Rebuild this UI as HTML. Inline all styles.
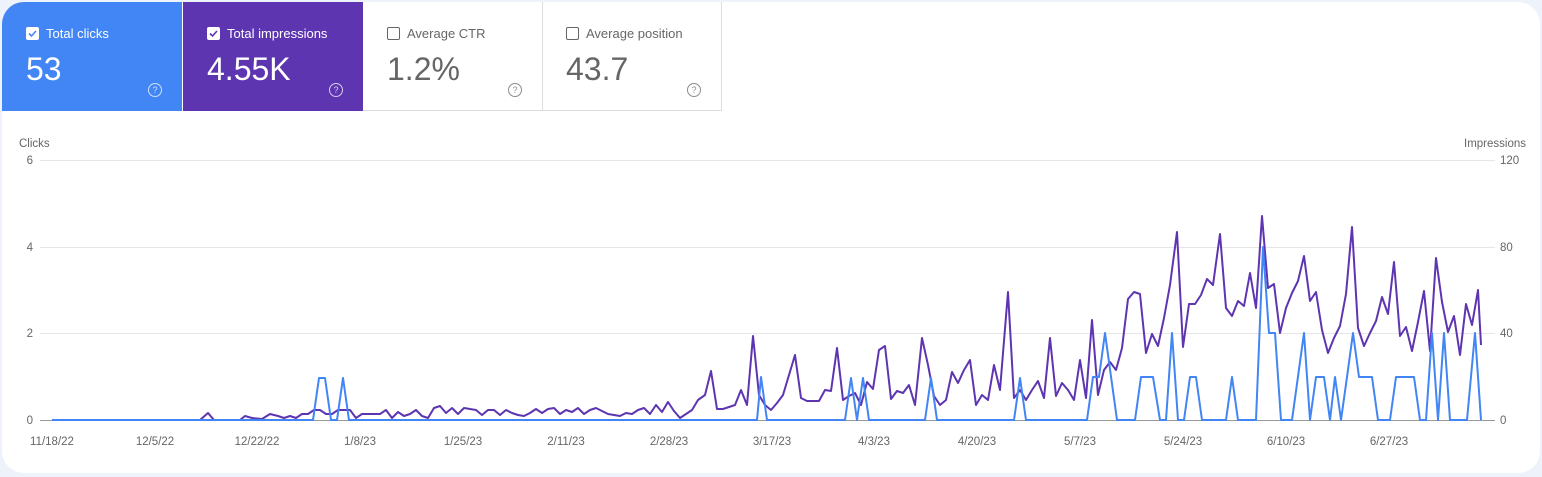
<!DOCTYPE html>
<html><head><meta charset="utf-8"><style>
body{margin:0;width:1542px;height:477px;background:#eef2fa;font-family:"Liberation Sans",sans-serif;overflow:hidden;position:relative}
.wrap{position:absolute;left:2px;top:2px;width:1538px;height:471px;background:#fff;border-radius:22px;overflow:hidden}
.card{position:absolute;top:0;height:109px;width:180px;box-sizing:border-box}
.lab{position:absolute;left:24px;top:24px;font-size:13px;display:flex;align-items:center}
.cb{width:11px;height:11px;border:1.5px solid currentColor;border-radius:2px;margin-right:7px;display:inline-block;position:relative}
.val{position:absolute;left:24px;top:49px;font-size:32px}
.q{position:absolute;right:20px;top:81px;width:12px;height:12px;border:1.3px solid currentColor;border-radius:50%;font-size:9px;text-align:center;line-height:12px;opacity:.75}
svg text{font-family:"Liberation Sans",sans-serif;font-size:11.5px;fill:#666}
</style></head><body>
<div class="wrap">
<div class="card" style="left:0;background:#4285f4;color:#fff"><div class="lab"><span class="cb" style="background:#fff"><svg width="11" height="11" style="position:absolute;left:0;top:0"><path d="M2 5.5l2.5 2.5 4.5-5" stroke="#4285f4" stroke-width="1.6" fill="none"/></svg></span>Total clicks</div><div class="val">53</div><div class="q">?</div></div>
<div class="card" style="left:181px;background:#5e35b1;color:#fff"><div class="lab"><span class="cb" style="background:#fff"><svg width="11" height="11" style="position:absolute;left:0;top:0"><path d="M2 5.5l2.5 2.5 4.5-5" stroke="#5e35b1" stroke-width="1.6" fill="none"/></svg></span>Total impressions</div><div class="val">4.55K</div><div class="q">?</div></div>
<div class="card" style="left:361px;color:#666;border-right:1px solid #ddd;border-bottom:1px solid #ddd"><div class="lab"><span class="cb"></span>Average CTR</div><div class="val">1.2%</div><div class="q">?</div></div>
<div class="card" style="left:540px;color:#666;border-right:1px solid #ddd;border-bottom:1px solid #ddd"><div class="lab"><span class="cb"></span>Average position</div><div class="val">43.7</div><div class="q">?</div></div>
</div>
<svg width="1542" height="477" style="position:absolute;left:0;top:0">
<text x="19" y="147">Clicks</text><text x="1526" y="147" text-anchor="end">Impressions</text>
<g stroke="#e6e6e6" stroke-width="1"><line x1="40" y1="160.5" x2="1495" y2="160.5"/><line x1="40" y1="247.5" x2="1495" y2="247.5"/><line x1="40" y1="333.5" x2="1495" y2="333.5"/></g>
<line x1="40" y1="420.5" x2="1495" y2="420.5" stroke="#999"/>
<g text-anchor="end"><text x="33" y="164">6</text><text x="33" y="251">4</text><text x="33" y="337">2</text><text x="33" y="424">0</text></g>
<g><text x="1500" y="164">120</text><text x="1500" y="251">80</text><text x="1500" y="337">40</text><text x="1500" y="424">0</text></g>
<g text-anchor="middle" style="font-size:12px"><text x="52" y="445">11/18/22</text><text x="155" y="445">12/5/22</text><text x="257" y="445">12/22/22</text><text x="360" y="445">1/8/23</text><text x="463" y="445">1/25/23</text><text x="566" y="445">2/11/23</text><text x="669" y="445">2/28/23</text><text x="772" y="445">3/17/23</text><text x="874" y="445">4/3/23</text><text x="977" y="445">4/20/23</text><text x="1080" y="445">5/7/23</text><text x="1183" y="445">5/24/23</text><text x="1286" y="445">6/10/23</text><text x="1389" y="445">6/27/23</text></g>
<polyline fill="none" stroke="#5e35b1" stroke-width="2" stroke-linejoin="round" points="52,420 200,420 208,413 214,420 240,420 245,416 252,418 262,419 270,414 278,416 284,418 290,416 296,418 302,414 308,414 314,410 320,410 326,414 332,414 338,410 350,410 356,418 362,414 380,414 386,410 392,418 398,412 404,416 410,414 416,410 422,416 428,418 434,408 440,406 446,413 452,408 458,414 464,408 470,409 476,410 482,415 488,410 494,410 500,415 506,410 512,413 518,415 524,416 530,413 536,409 542,413 548,409 554,408 560,414 566,410 572,412 578,408 584,414 590,410 596,408 602,411 608,414 614,415 620,416 626,413 632,414 638,410 644,408 650,414 656,405 662,412 668,402 674,411 680,418 686,414 692,410 698,400 705,395 711,371 717,409 723,409 735,405 741,390 747,405 753,336 759,395 765,405 771,410 777,403 783,395 795,355 801,398 807,401 819,401 825,390 831,391 837,348 843,400 849,396 855,393 861,405 867,382 873,389 879,350 885,346 891,399 897,391 903,393 909,385 915,405 922,338 928,365 934,396 940,405 946,400 952,372 958,383 964,370 970,360 976,405 982,395 988,400 994,365 1000,390 1008,292 1014,398 1020,390 1026,400 1032,390 1038,381 1044,398 1050,338 1056,396 1062,383 1068,390 1074,400 1080,360 1086,398 1092,320 1098,395 1104,370 1110,362 1116,370 1122,348 1128,299 1134,292 1140,294 1146,353 1152,334 1158,346 1164,318 1170,285 1177,232 1183,347 1189,304 1195,304 1201,295 1207,279 1213,285 1220,234 1226,308 1232,316 1238,301 1244,306 1250,273 1256,308 1262,216 1268,288 1274,284 1280,333 1286,308 1292,293 1298,281 1304,256 1310,301 1316,292 1322,330 1328,353 1334,338 1340,326 1346,294 1352,227 1358,328 1364,346 1370,333 1376,321 1382,297 1388,314 1394,262 1400,336 1406,327 1412,351 1418,322 1424,291 1430,351 1436,258 1442,302 1448,332 1454,316 1460,355 1466,304 1472,325 1478,290 1481,345"/>
<polyline fill="none" stroke="#4285f4" stroke-width="2" stroke-linejoin="round" points="52,420 313,420 319,378 325,378 331,420 337,420 343,378 349,420 757,420 761,377 767,420 845,420 851,378 857,420 863,378 869,420 925,420 931,378 937,420 1014,420 1020,378 1026,420 1087,420 1093,377 1099,377 1105,333 1117,420 1135,420 1141,377 1153,377 1160,420 1166,420 1172,333 1178,420 1184,420 1190,377 1196,377 1202,420 1226,420 1232,377 1238,420 1256,420 1263,247 1269,333 1275,333 1281,420 1292,420 1304,333 1310,420 1316,377 1324,377 1330,420 1335,377 1341,420 1347,377 1353,333 1359,377 1372,377 1378,420 1390,420 1396,377 1414,377 1420,420 1426,420 1432,333 1438,420 1444,333 1450,420 1467,420 1475,333 1481,420"/>
</svg>
</body></html>
